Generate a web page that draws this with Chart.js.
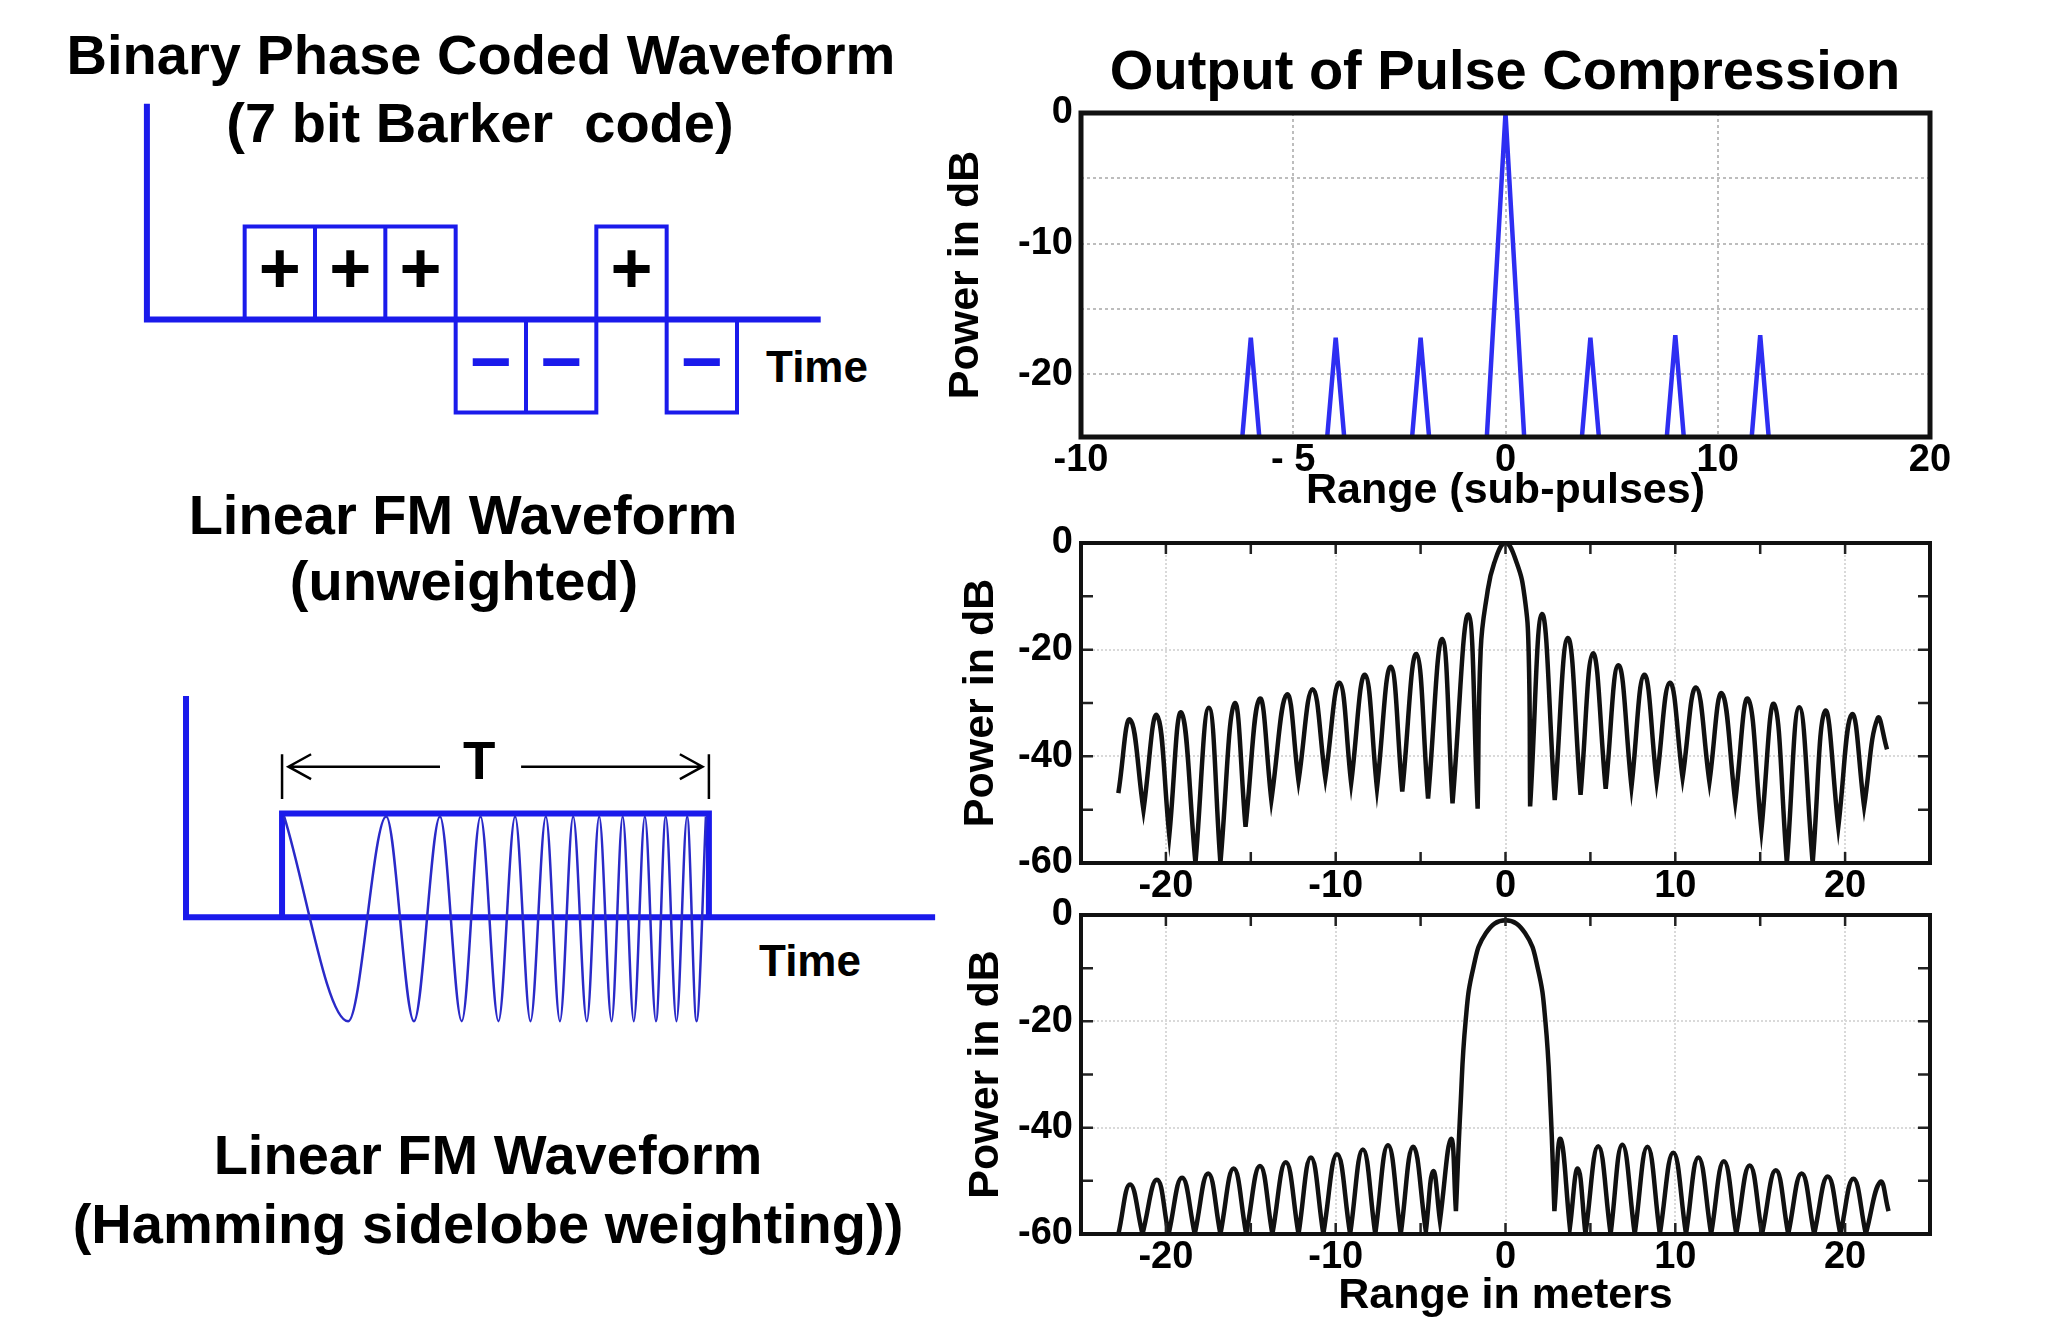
<!DOCTYPE html>
<html>
<head>
<meta charset="utf-8">
<title>Pulse compression waveforms</title>
<script src="https://cdn.jsdelivr.net/npm/chart.js@4.4.1/dist/chart.umd.min.js"></script>
<style>
  html, body { margin: 0; padding: 0; background: #fff; }
  body { position: relative; width: 2070px; height: 1330px; overflow: hidden;
         font-family: 'Liberation Sans', Arial, Helvetica, sans-serif; }
  .lbl { position: absolute; transform: translate(-50%, -50%); font-weight: bold;
         font-size: 56px; line-height: 1; white-space: pre; color: #000; }
  .time { font-size: 44px; }
  .plot { position: absolute; }
</style>
</head>
<body>
<div class="lbl" style="left:481px; top:55px">Binary Phase Coded Waveform</div>
<div class="lbl" style="left:480px; top:123px">(7 bit Barker  code)</div>
<div class="lbl time" style="left:817px; top:367px">Time</div>
<div class="lbl" style="left:463px; top:515px">Linear FM Waveform</div>
<div class="lbl" style="left:464px; top:581px">(unweighted)</div>
<div class="lbl time" style="left:810px; top:961px">Time</div>
<div class="lbl" style="left:488px; top:1155px">Linear FM Waveform</div>
<div class="lbl" style="left:488px; top:1224px">(Hamming sidelobe weighting))</div>
<div class="lbl" style="left:1505px; top:70px">Output of Pulse Compression</div>

<div class="plot" style="left:104px; top:87px; width:844px; height:372px"><canvas id="barkerWave"></canvas></div>
<div class="plot" style="left:154px; top:668px; width:811px; height:374px"><canvas id="chirpWave"></canvas></div>
<div class="plot" style="left:930px; top:80px; width:1030px; height:440px"><canvas id="barkerOut"></canvas></div>
<div class="plot" style="left:930px; top:500px; width:1030px; height:420px"><canvas id="unwOut"></canvas></div>
<div class="plot" style="left:930px; top:880px; width:1030px; height:450px"><canvas id="hamOut"></canvas></div>

<script>
// ---- left: 7 bit Barker code (x in bit widths, y in +/-1)
const barkerCode = [1, 1, 1, -1, -1, 1, -1];
const barkerAxisX = [-1.39, -1.39, 8.19];
const barkerAxisY = [2.32, 0, 0];

// ---- left: linear FM pulse (t as fraction of T, amplitude)
const chirpT = [0.005, 0.155, 0.244, 0.309, 0.370, 0.421, 0.465, 0.507, 0.546, 0.582, 0.618, 0.651, 0.682,
                0.714, 0.743, 0.772, 0.798, 0.824, 0.850, 0.876, 0.899, 0.924, 0.949, 0.971, 0.993];
const chirpAmp = [0.97, -1, 0.97, -1, 0.97, -1, 0.97, -1, 0.97, -1, 0.97, -1, 0.97,
                  -1, 0.97, -1, 0.97, -1, 0.97, -1, 0.97, -1, 0.97, -1, 0.97];
const fmAxisX = [-0.225, -0.225, 1.53];
const fmAxisY = [2.13, 0, 0];
const envelopeX = [0, 0, 1, 1];
const envelopeY = [0, 1, 1, 0];
const tArrowY = 1.45;

// ---- right top: Barker compression output (x in sub-pulse lags)
const barkerLag = [-3, -2, -1, 0, 1, 2, 3];
const barkerPeakDb = [-17.2, -17.2, -17.2, 0, -17.2, -17.0, -17.0];
const barkerHalfBase = [0.1, 0.1, 0.1, 0.22, 0.1, 0.1, 0.1];
const topYMin = -24.8;
const topTickPos = [-5, -2.5, 0, 2.5, 5];
const topTickText = ['-10', '- 5', '0', '10', '20'];

// ---- right middle: unweighted LFM (range m, dB)
const unwX = [-22.80, -22.11, -21.32, -20.53, -19.80, -19.09, -18.26, -17.47, -16.79, -15.96, -15.31, -14.48,
              -13.79, -12.88, -12.19, -11.36, -10.61, -9.78, -9.09, -8.28, -7.57, -6.76, -6.08, -5.25, -4.56,
              -3.73, -3.12, -2.19, -1.64, -1.46, -1.1, -0.67, 0, 0.67, 1.12, 1.36, 1.45, 2.15, 2.90, 3.67,
              4.42, 5.15, 5.90, 6.65, 7.42, 8.17, 8.90, 9.68, 10.43, 11.22, 12.01, 12.74, 13.53, 14.28, 15.07,
              15.82, 16.57, 17.30, 18.09, 18.82, 19.60, 20.40, 21.12, 21.91, 22.47];
const unwDb = [-46.9, -33.1, -50.1, -32.3, -54.8, -31.8, -60, -30.9, -60, -30.1, -53.2, -29.2,
               -48.2, -28.4, -44.6, -27.4, -44.1, -26.2, -45.0, -24.7, -46.0, -23.2, -46.6, -20.8, -47.9,
               -18.0, -48.8, -13.4, -49.8, -20, -10, -3.8, 0, -3.8, -10, -20, -49.4, -13.3, -48.2, -17.8,
               -47.2, -20.7, -46.1, -22.9, -45.7, -24.7, -44.7, -26.2, -44.0, -27.1, -44.8, -28.2, -48.5, -29.2, -53.8,
               -30.2, -60, -30.8, -60, -31.5, -53.2, -32.1, -49.4, -32.9, -38.7];

// ---- right bottom: Hamming weighted LFM (range m, dB)
const hamX = [-22.8, -22.11, -21.38, -20.53, -19.84, -19.05, -18.30, -17.51, -16.79, -16.01, -15.27, -14.46,
              -13.73, -12.94, -12.19, -11.46, -10.73, -9.92, -9.15, -8.40, -7.67, -6.92, -6.17, -5.44, -4.69,
              -4.26, -3.86, -3.21, -2.92, -2.65, -2.35, -1.9, -1.15, 0, 1.15, 1.9, 2.35, 2.65, 2.88, 3.24,
              3.79, 4.26, 4.71, 5.46, 6.19, 6.88, 7.61, 8.36, 9.09, 9.88, 10.63, 11.36, 12.11, 12.86, 13.59,
              14.38, 15.11, 15.92, 16.65, 17.44, 18.18, 18.98, 19.72, 20.49, 21.22, 22.07, 22.56];
const hamDb = [-60, -50.7, -60, -49.8, -60, -49.4, -60, -48.6, -60, -47.7, -60, -47.2,
               -60, -46.5, -60, -45.6, -60, -45.0, -60, -44.1, -60, -43.3, -60, -43.6, -59.5,
               -48.2, -57.5, -42.1, -55.7, -36, -20, -10, -3.4, -1, -3.4, -10, -20, -36, -55.7, -42.1,
               -58.8, -47.7, -60, -43.5, -60, -43.2, -60, -43.6, -60, -44.7, -60, -45.6, -60, -46.3, -60,
               -47.1, -60, -48.0, -60, -48.6, -60, -49.2, -60, -49.6, -60, -50.2, -55.7];

const BLUE = '#1a1aeb';
const FONT = "'Liberation Sans', Arial, sans-serif";

Chart.defaults.font.family = FONT;
Chart.defaults.font.weight = 'bold';
Chart.defaults.color = '#000';
Chart.defaults.animation = false;
Chart.defaults.plugins.legend.display = false;
Chart.defaults.plugins.tooltip.enabled = false;
Chart.defaults.elements.point.radius = 0;

function xy(xs, ys) {
  return xs.map((x, i) => ({x: x, y: ys[i]}));
}

// nulls are repeated so the spline leaves them with a sharp cusp
function lobePoints(xs, ys) {
  const pts = [];
  xs.forEach((x, i) => {
    pts.push({x: x, y: ys[i]});
    if (i > 0 && i < xs.length - 1 && ys[i] < ys[i - 1] && ys[i] < ys[i + 1]) pts.push({x: x, y: ys[i]});
  });
  return pts;
}

function diagramOptions(xmin, xmax, ymin, ymax) {
  return {
    responsive: true,
    maintainAspectRatio: false,
    layout: { padding: 0, autoPadding: false },
    scales: {
      x: { type: 'linear', display: false, min: xmin, max: xmax },
      y: { type: 'linear', display: false, min: ymin, max: ymax }
    }
  };
}

// ---------- Barker waveform diagram
const boxPts = [];
barkerCode.forEach((c, i) => {
  boxPts.push({x: i, y: 0}, {x: i, y: c}, {x: i + 1, y: c}, {x: i + 1, y: 0}, {x: i + 1, y: null});
});

const bitSigns = {
  id: 'bitSigns',
  afterDatasetsDraw(chart) {
    const {ctx, scales: {x, y}} = chart;
    ctx.save();
    ctx.font = 'bold 72px ' + FONT;
    ctx.textAlign = 'center';
    ctx.textBaseline = 'middle';
    barkerCode.forEach((c, i) => {
      ctx.fillStyle = c > 0 ? '#000' : BLUE;
      ctx.fillText(c > 0 ? '+' : '\u2212', x.getPixelForValue(i + 0.5), y.getPixelForValue(c * 0.5));
    });
    ctx.restore();
  }
};

new Chart(document.getElementById('barkerWave'), {
  type: 'line',
  data: {
    datasets: [
      { data: xy(barkerAxisX, barkerAxisY), borderColor: BLUE, borderWidth: 6, clip: false },
      { data: boxPts, borderColor: BLUE, borderWidth: 4, clip: false }
    ]
  },
  options: diagramOptions(-2, 10, -1.5, 2.5),
  plugins: [bitSigns]
});

// ---------- linear FM diagram
const markPts = [
  {x: 0, y: 1.14}, {x: 0, y: 1.57}, {x: 0, y: null},
  {x: 1, y: 1.14}, {x: 1, y: 1.57}, {x: 1, y: null},
  {x: 0.37, y: tArrowY}, {x: 0.015, y: tArrowY}, {x: 0.015, y: null},
  {x: 0.068, y: tArrowY + 0.12}, {x: 0.015, y: tArrowY}, {x: 0.068, y: tArrowY - 0.12}, {x: 0.068, y: null},
  {x: 0.56, y: tArrowY}, {x: 0.985, y: tArrowY}, {x: 0.985, y: null},
  {x: 0.932, y: tArrowY + 0.12}, {x: 0.985, y: tArrowY}, {x: 0.932, y: tArrowY - 0.12}
];

const durationLabel = {
  id: 'durationLabel',
  afterDatasetsDraw(chart) {
    const {ctx, scales: {x, y}} = chart;
    ctx.save();
    ctx.font = 'bold 53px ' + FONT;
    ctx.fillStyle = '#000';
    ctx.textAlign = 'center';
    ctx.textBaseline = 'middle';
    ctx.fillText('T', x.getPixelForValue(0.462), y.getPixelForValue(tArrowY + 0.02));
    ctx.restore();
  }
};

new Chart(document.getElementById('chirpWave'), {
  type: 'line',
  data: {
    datasets: [
      { data: xy(chirpT, chirpAmp), borderColor: '#2a2ac8', borderWidth: 2.5, cubicInterpolationMode: 'monotone', clip: false },
      { data: xy(envelopeX, envelopeY), borderColor: BLUE, borderWidth: 6, clip: false },
      { data: xy(fmAxisX, fmAxisY), borderColor: BLUE, borderWidth: 6, clip: false },
      { data: markPts, borderColor: '#000', borderWidth: 2.5, clip: false }
    ]
  },
  options: diagramOptions(-0.3, 1.6, -1.2, 2.4),
  plugins: [durationLabel]
});

// ---------- right hand plots
const framePlugin = {
  id: 'frame',
  afterDraw(chart, args, opts) {
    const {ctx, chartArea: a, scales: {x, y}} = chart;
    ctx.save();
    if (opts.innerTicks) {
      ctx.strokeStyle = '#222';
      ctx.lineWidth = 2.5;
      ctx.beginPath();
      x.ticks.forEach(t => {
        if (t.value <= x.min || t.value >= x.max) return;
        const px = x.getPixelForValue(t.value);
        ctx.moveTo(px, a.top); ctx.lineTo(px, a.top + 11);
        ctx.moveTo(px, a.bottom); ctx.lineTo(px, a.bottom - 11);
      });
      y.ticks.forEach(t => {
        if (t.value <= y.min || t.value >= y.max) return;
        const py = y.getPixelForValue(t.value);
        ctx.moveTo(a.left, py); ctx.lineTo(a.left + 12, py);
        ctx.moveTo(a.right, py); ctx.lineTo(a.right - 12, py);
      });
      ctx.stroke();
    }
    ctx.lineWidth = opts.width;
    ctx.strokeStyle = '#111';
    ctx.strokeRect(a.left, a.top, a.right - a.left, a.bottom - a.top);
    ctx.restore();
  }
};

function outputOptions(cfg) {
  return {
    responsive: true,
    maintainAspectRatio: false,
    layout: { autoPadding: false, padding: { top: cfg.padTop, right: 30, bottom: 0, left: 0 } },
    plugins: { frame: { width: cfg.frameWidth, innerTicks: cfg.innerTicks } },
    scales: {
      x: {
        type: 'linear', min: cfg.xMin, max: cfg.xMax,
        afterFit: s => { s.height = cfg.xHeight; },
        grid: { drawTicks: false, lineWidth: 2,
                color: c => cfg.xGrid(c.tick.value) ? cfg.gridColor : 'transparent' },
        border: { display: false, dash: cfg.dash },
        ticks: { stepSize: cfg.xStep, autoSkip: false, maxRotation: 0, minRotation: 0,
                 padding: 1, font: { size: 38 }, callback: cfg.xLabel },
        title: { display: !!cfg.xTitle, text: cfg.xTitle || '', font: { size: 43 },
                 padding: { top: 0, bottom: cfg.xTitlePad || 0 } }
      },
      y: {
        type: 'linear', min: cfg.yMin, max: 0,
        afterFit: s => { s.width = 151; },
        grid: { drawTicks: false, lineWidth: 2,
                color: c => cfg.yGrid(c.tick.value) ? cfg.gridColor : 'transparent' },
        border: { display: false, dash: cfg.dash },
        ticks: { stepSize: cfg.yStep, autoSkip: false, padding: 8, font: { size: 38 }, callback: cfg.yLabel },
        title: { display: true, text: 'Power in dB', font: { size: 43 },
                 padding: { top: cfg.yTitlePad, bottom: 0 } }
      }
    }
  };
}

// Barker compression output, one triangle per lag
const barkerPts = [];
barkerLag.forEach((lag, i) => {
  const hw = barkerHalfBase[i];
  barkerPts.push({x: lag - hw, y: topYMin}, {x: lag, y: barkerPeakDb[i]}, {x: lag + hw, y: topYMin}, {x: lag, y: null});
});

new Chart(document.getElementById('barkerOut'), {
  type: 'line',
  data: { datasets: [{ data: barkerPts, borderColor: '#2e2ef2', borderWidth: 4.5 }] },
  options: outputOptions({
    padTop: 33, xHeight: 83, frameWidth: 5, innerTicks: false,
    xMin: -5, xMax: 5, xStep: 2.5, yMin: topYMin, yStep: 5,
    gridColor: '#bdbdbd', dash: [3, 3],
    xGrid: v => v > -5 && v < 5,
    yGrid: v => v < 0 && v > -24,
    xLabel: v => { const i = topTickPos.indexOf(v); return i >= 0 ? topTickText[i] : ''; },
    yLabel: v => (v === 0 || v === -10 || v === -20) ? String(v) : '',
    xTitle: 'Range (sub-pulses)', xTitlePad: 3, yTitlePad: 10
  }),
  plugins: [framePlugin]
});

function lfmConfig(extra) {
  return Object.assign({
    frameWidth: 4, innerTicks: true,
    xMin: -25, xMax: 25, xStep: 5, yMin: -60, yStep: 10,
    gridColor: '#d9d9d9', dash: [2, 2],
    xGrid: v => v % 10 === 0 && Math.abs(v) < 25,
    yGrid: v => v === -20 || v === -40,
    xLabel: v => (v % 10 === 0 && Math.abs(v) < 25) ? String(v) : '',
    yLabel: v => v % 20 === 0 ? String(v) : ''
  }, extra);
}

new Chart(document.getElementById('unwOut'), {
  type: 'line',
  data: { datasets: [{ data: lobePoints(unwX, unwDb), borderColor: '#111', borderWidth: 4.5, tension: 0.45 }] },
  options: outputOptions(lfmConfig({ padTop: 43, xHeight: 57, yTitlePad: 25 })),
  plugins: [framePlugin]
});

new Chart(document.getElementById('hamOut'), {
  type: 'line',
  data: { datasets: [{ data: lobePoints(hamX, hamDb), borderColor: '#111', borderWidth: 4.5, tension: 0.45 }] },
  options: outputOptions(lfmConfig({ padTop: 35, xHeight: 96, yTitlePad: 30,
                                     xTitle: 'Range in meters', xTitlePad: 8 })),
  plugins: [framePlugin]
});
</script>
</body>
</html>
